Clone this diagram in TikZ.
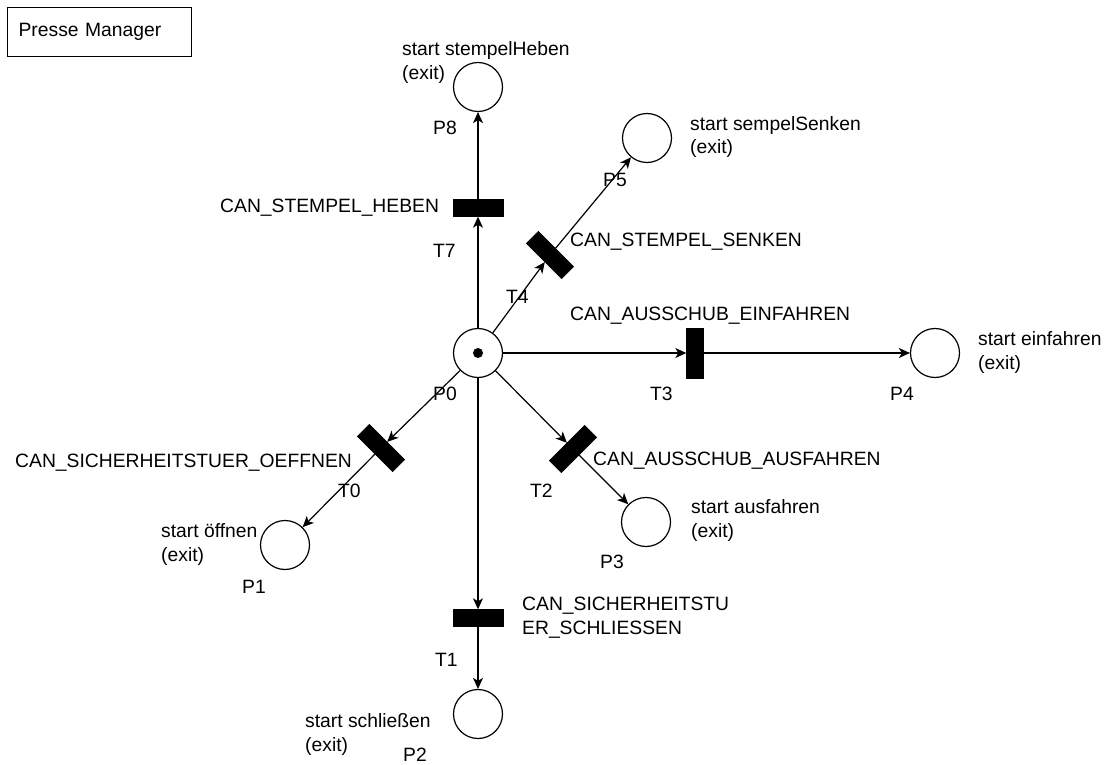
\documentclass[tikz,border=0pt]{standalone}
\usepackage{fontspec}
\setmainfont{Liberation Sans}
\usetikzlibrary{arrows.meta}
\tikzset{
  place/.style={draw, circle, line width=1.2pt, minimum size=49pt, inner sep=0pt},
  trans/.style={draw, fill=black, rectangle, minimum width=50pt, minimum height=17pt, inner sep=0pt},
  lbl/.style={anchor=base west, inner sep=0pt, align=left},
  arr/.style={-{Stealth[length=11pt, width=10pt, inset=3pt]}, line width=1.2pt},
  titlebox/.style={draw, line width=1.2pt, anchor=north west, text width=162pt, inner xsep=11pt, minimum height=49pt},
}
\begin{document}
\begin{tikzpicture}[x=1pt, y=-1pt, font=\fontsize{19.3}{24}\selectfont]
\useasboundingbox (0,0) rectangle (1112,765);
\node[titlebox] (title) at (7,7) {Presse Manager};
\node[place] (P0) at (478,353) {};
\fill (P0.center) circle (5pt);
\node[place] (P8) at (478,87) {};
\node[place] (P5) at (647,138) {};
\node[place] (P4) at (935,353) {};
\node[place] (P3) at (646,522) {};
\node[place] (P1) at (285,545) {};
\node[place] (P2) at (478,714) {};
\node[trans] (T7) at (478,208) {};
\node[trans, rotate=-45] (T4) at (550,255) {};
\node[trans, rotate=90] (T3) at (695,353) {};
\node[trans, rotate=45] (T2) at (573,449) {};
\node[trans, rotate=-45] (T0) at (381,448) {};
\node[trans] (T1) at (478,618) {};
\draw[arr] (P0) -- (T7); \draw[arr] (T7) -- (P8);
\draw[arr] (P0) -- (T4); \draw[arr] (T4) -- (P5);
\draw[arr] (P0) -- (T3); \draw[arr] (T3) -- (P4);
\draw[arr] (P0) -- (T2); \draw[arr] (T2) -- (P3);
\draw[arr] (P0) -- (T0); \draw[arr] (T0) -- (P1);
\draw[arr] (P0) -- (T1); \draw[arr] (T1) -- (P2);
\node[lbl] (p8txt) at (402,80) {start stempelHeben\\(exit)};
\node[lbl] (p8name) at (433,135) {P8};
\node[lbl] (t7txt) at (220,212) {CAN\_STEMPEL\_HEBEN};
\node[lbl] (t7name) at (433,257) {T7};
\node[lbl] (p5txt) at (690,154) {start sempelSenken\\(exit)};
\node[lbl] (p5name) at (603,187) {P5};
\node[lbl] (t4txt) at (570,247) {CAN\_STEMPEL\_SENKEN};
\node[lbl] (t4name) at (506,303) {T4};
\node[lbl] (t3txt) at (570,320) {CAN\_AUSSCHUB\_EINFAHREN};
\node[lbl] (p4txt) at (978,369) {start einfahren\\(exit)};
\node[lbl] (t3name) at (650,400) {T3};
\node[lbl] (p4name) at (890,400) {P4};
\node[lbl] (p0name) at (433,400) {P0};
\node[lbl] (t0txt) at (15,467) {CAN\_SICHERHEITSTUER\_OEFFNEN};
\node[lbl] (t0name) at (338,497) {T0};
\node[lbl] (t2name) at (530,497) {T2};
\node[lbl] (t2txt) at (593,465) {CAN\_AUSSCHUB\_AUSFAHREN};
\node[lbl] (p1txt) at (161,561) {start öffnen\\(exit)};
\node[lbl] (p1name) at (242,593) {P1};
\node[lbl] (p3txt) at (691,537) {start ausfahren\\(exit)};
\node[lbl] (p3name) at (600,568) {P3};
\node[lbl] (t1txt) at (522,634) {CAN\_SICHERHEITSTU\\ER\_SCHLIESSEN};
\node[lbl] (t1name) at (435,666) {T1};
\node[lbl] (p2txt) at (305,751) {start schließen\\(exit)};
\node[lbl] (p2name) at (403,761) {P2};
\end{tikzpicture}
\end{document}
